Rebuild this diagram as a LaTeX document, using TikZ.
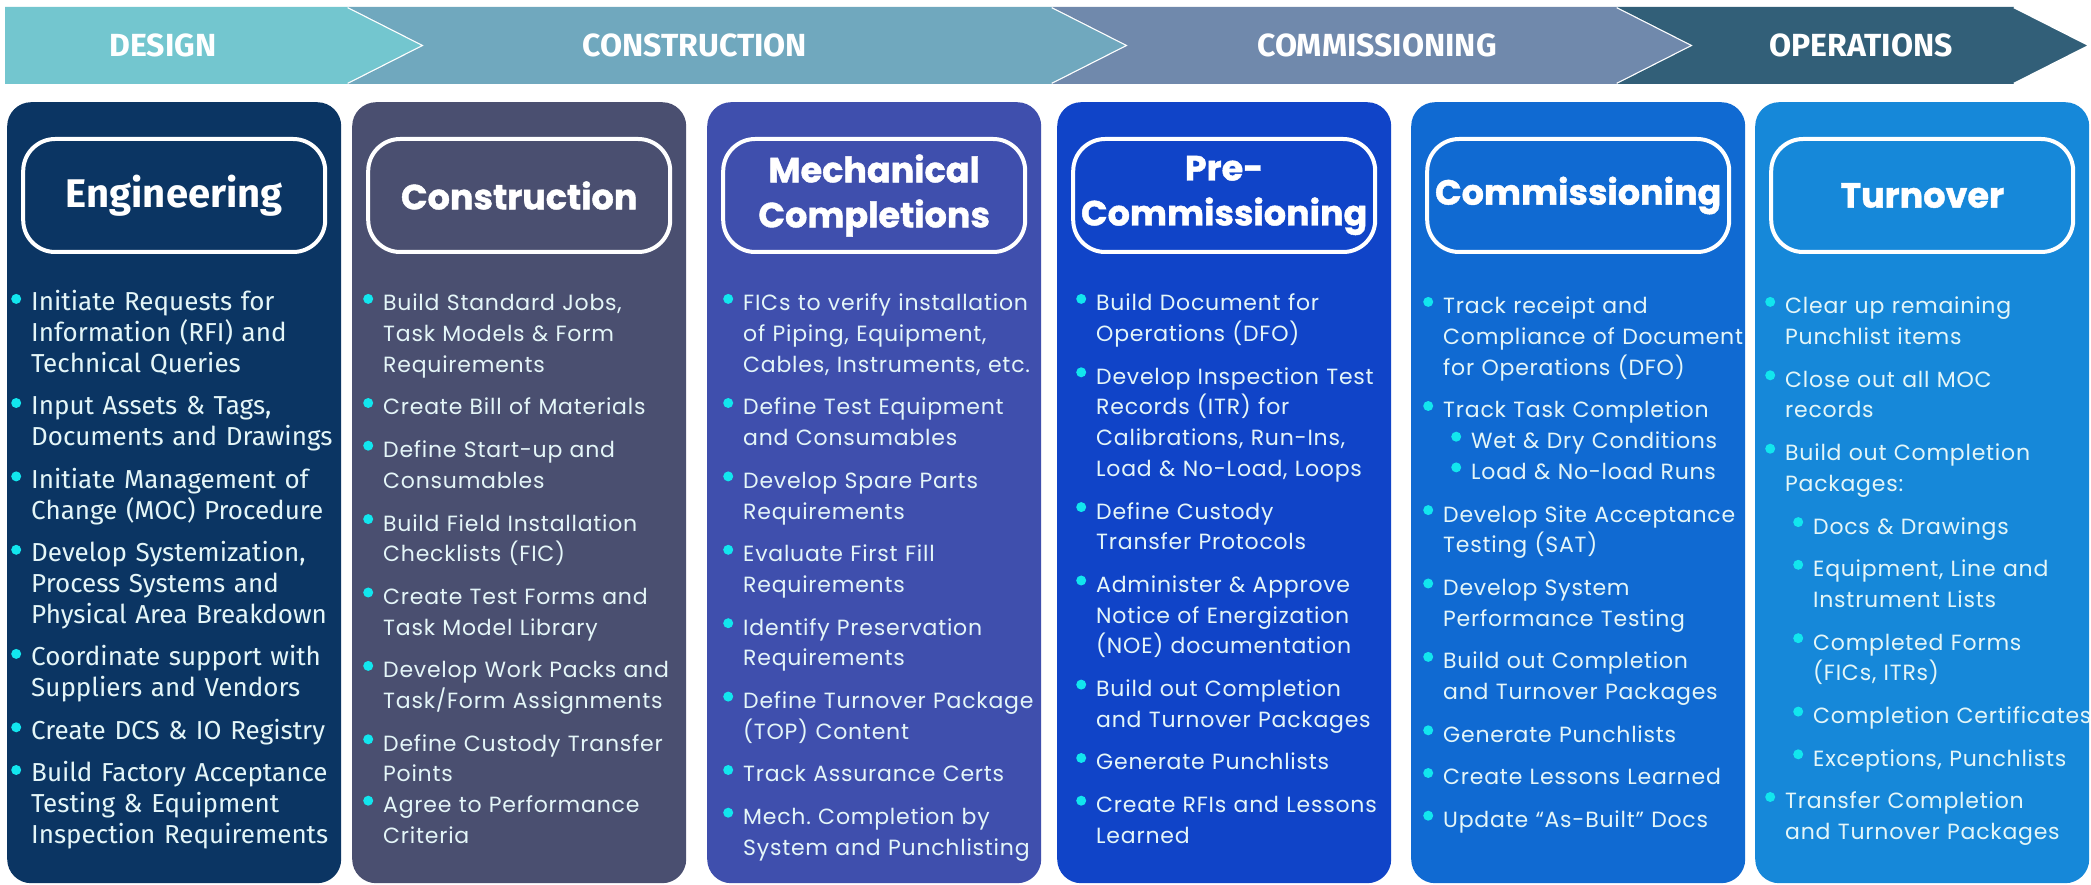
\documentclass[tikz,border=0pt]{standalone}
\usepackage{fontspec}
\setmainfont{Fira Sans}
\newfontfamily\popfont{Poppins}[LetterSpace=3.5]
\newfontfamily\poptitle{Poppins}[BoldFeatures={FakeBold=1.2}]
\usetikzlibrary{positioning}

\definecolor{dsgcol}{HTML}{73C6CF}
\definecolor{cnscol}{HTML}{70A8BE}
\definecolor{cmscol}{HTML}{7089AC}
\definecolor{opscol}{HTML}{325F78}
\definecolor{engcol}{HTML}{0B3563}
\definecolor{concol}{HTML}{4A4F70}
\definecolor{mechcol}{HTML}{3F4FAD}
\definecolor{precol}{HTML}{1044C8}
\definecolor{comcol}{HTML}{106AD2}
\definecolor{turcol}{HTML}{1688D9}
\definecolor{bulcol}{HTML}{12E6EE}
\definecolor{txtcol}{HTML}{E4F6F8}

\newcommand\blt{\tikz[baseline={(0pt,-12pt)}]\fill[bulcol] (0pt,0pt) circle[radius=5pt];}
\newcommand\brk{\hfil\break}
\newcommand\itm[1]{\par\hangindent=20pt\hangafter=1\noindent\makebox[20pt][l]{\blt}#1}
\newcommand\subitm[1]{\par\hangindent=48pt\hangafter=1\noindent\hspace*{28pt}\makebox[20pt][l]{\blt}#1}
\newcommand\nogap{\par\vspace{-\parskip}}

\tikzset{
  phase/.style={text=white, font=\fontsize{32}{32}\selectfont\bfseries},
  card/.style={anchor=north west, inner sep=0pt, rounded corners=24pt, minimum width=334pt, minimum height=781pt},
  titlebox/.style={draw=white, line width=4pt, rounded corners=32pt, minimum width=302pt, minimum height=113pt, inner sep=0pt, text=white, align=center, font=\fontsize{35}{45}\selectfont\poptitle\bfseries},
  body/.style={inner sep=0pt, text width=334pt, align=left, text=txtcol, font=\fontsize{22}{30.7}\selectfont\popfont\frenchspacing\setlength{\parskip}{12pt}}
}

\begin{document}
\begin{tikzpicture}[x=1pt, y=-1pt]
\useasboundingbox[fill=white] (0,0) rectangle (2091,885);

% phase banner
\foreach \a/\d/\b/\c in {5/0/348/dsgcol, 348/76/1052/cnscol, 1052/76/1617/cmscol, 1617/76/2014/opscol}{
\fill[\c] (\a,7) -- (\b,7) -- ({\b+76},45.5) -- (\b,84) -- (\a,84) -- ({\a+\d},45.5) -- cycle;
\draw[white, line width=2.5pt] (\b,7) -- ({\b+76},45.5) -- (\b,84);}
\node[phase] (dsg) at (163,45.5) {DESIGN};
\node[phase] (cns) at (695,45.5) {CONSTRUCTION};
\node[phase] (cms) at (1377,45.5) {COMMISSIONING};
\node[phase] (ops) at (1861,45.5) {OPERATIONS};

% cards
\node[card, fill=engcol] (eng) at (7,102) {};
\node[card, fill=concol] (con) at (352,102) {};
\node[card, fill=mechcol] (mech) at (707,102) {};
\node[card, fill=precol] (pre) at (1057,102) {};
\node[card, fill=comcol] (com) at (1411,102) {};
\node[card, fill=turcol] (tur) at (1755,102) {};

% titles
\node[titlebox, font=\fontsize{40}{45}\selectfont\bfseries, below=35pt of eng.north] (engT) {Engineering};
\node[titlebox, below=35pt of con.north] (conT) {Construction};
\node[titlebox, below=35pt of mech.north] (mechT) {Mechanical\\Completions};
\node[titlebox, below=35pt of pre.north] (preT) {Pre-\\Commissioning};
\node[titlebox, below=35pt of com.north] (comT) {Commissioning};
\node[titlebox, below=35pt of tur.north] (turT) {Turnover};

% task lists
\node[body, font=\fontsize{26}{30.7}\selectfont\setlength{\parskip}{12pt}, below right=166pt and 4pt of eng.north west] (engB) {
\itm{Initiate Requests for\brk Information (RFI) and\brk Technical Queries}
\itm{Input Assets \& Tags,\brk Documents and Drawings}
\itm{Initiate Management of\brk Change (MOC) Procedure}
\itm{Develop Systemization,\brk Process Systems and\brk Physical Area Breakdown}
\itm{Coordinate support with\brk Suppliers and Vendors}
\itm{Create DCS \& IO Registry}
\itm{Build Factory Acceptance\brk Testing \& Equipment\brk Inspection Requirements}\par};

\node[body, below right=166pt and 11pt of con.north west] (conB) {
\itm{Build Standard Jobs,\brk Task Models \& Form\brk Requirements}
\itm{Create Bill of Materials}
\itm{Define Start-up and\brk Consumables}
\itm{Build Field Installation\brk Checklists (FIC)}
\itm{Create Test Forms and\brk Task Model Library}
\itm{Develop Work Packs and\brk Task/Form Assignments}
\itm{Define Custody Transfer\brk Points}
\nogap\itm{Agree to Performance\brk Criteria}\par};

\node[body, below right=166pt and 16pt of mech.north west] (mechB) {
\itm{FICs to verify installation\brk of Piping, Equipment,\brk Cables, Instruments, etc.}
\itm{Define Test Equipment\brk and Consumables}
\itm{Develop Spare Parts\brk Requirements}
\itm{Evaluate First Fill\brk Requirements}
\itm{Identify Preservation\brk Requirements}
\itm{Define Turnover Package\brk (TOP) Content}
\itm{Track Assurance Certs}
\itm{Mech.\ Completion by\brk System and Punchlisting}\par};

\node[body, below right=166pt and 19pt of pre.north west] (preB) {
\itm{Build Document for\brk Operations (DFO)}
\itm{Develop Inspection Test\brk Records (ITR) for\brk Calibrations, Run-Ins,\brk Load \& No-Load, Loops}
\itm{Define Custody\brk Transfer Protocols}
\itm{Administer \& Approve\brk Notice of Energization\brk (NOE) documentation}
\itm{Build out Completion\brk and Turnover Packages}
\itm{Generate Punchlists}
\itm{Create RFIs and Lessons\brk Learned}\par};

\node[body, below right=169pt and 12pt of com.north west] (comB) {
\itm{Track receipt and\brk Compliance of Document\brk for Operations (DFO)}
\itm{Track Task Completion}
\nogap\subitm{Wet \& Dry Conditions}
\nogap\subitm{Load \& No-load Runs}
\itm{Develop Site Acceptance\brk Testing (SAT)}
\itm{Develop System\brk Performance Testing}
\itm{Build out Completion\brk and Turnover Packages}
\itm{Generate Punchlists}
\itm{Create Lessons Learned}
\itm{Update “As-Built” Docs}\par};

\node[body, below right=169pt and 10pt of tur.north west] (turB) {
\itm{Clear up remaining\brk Punchlist items}
\itm{Close out all MOC\brk records}
\itm{Build out Completion\brk Packages:}
\subitm{Docs \& Drawings}
\subitm{Equipment, Line and\brk Instrument Lists}
\subitm{Completed Forms\brk (FICs, ITRs)}
\subitm{Completion\ Certificates}
\subitm{Exceptions, Punchlists}
\itm{Transfer Completion\brk and Turnover Packages}\par};
\end{tikzpicture}
\end{document}
